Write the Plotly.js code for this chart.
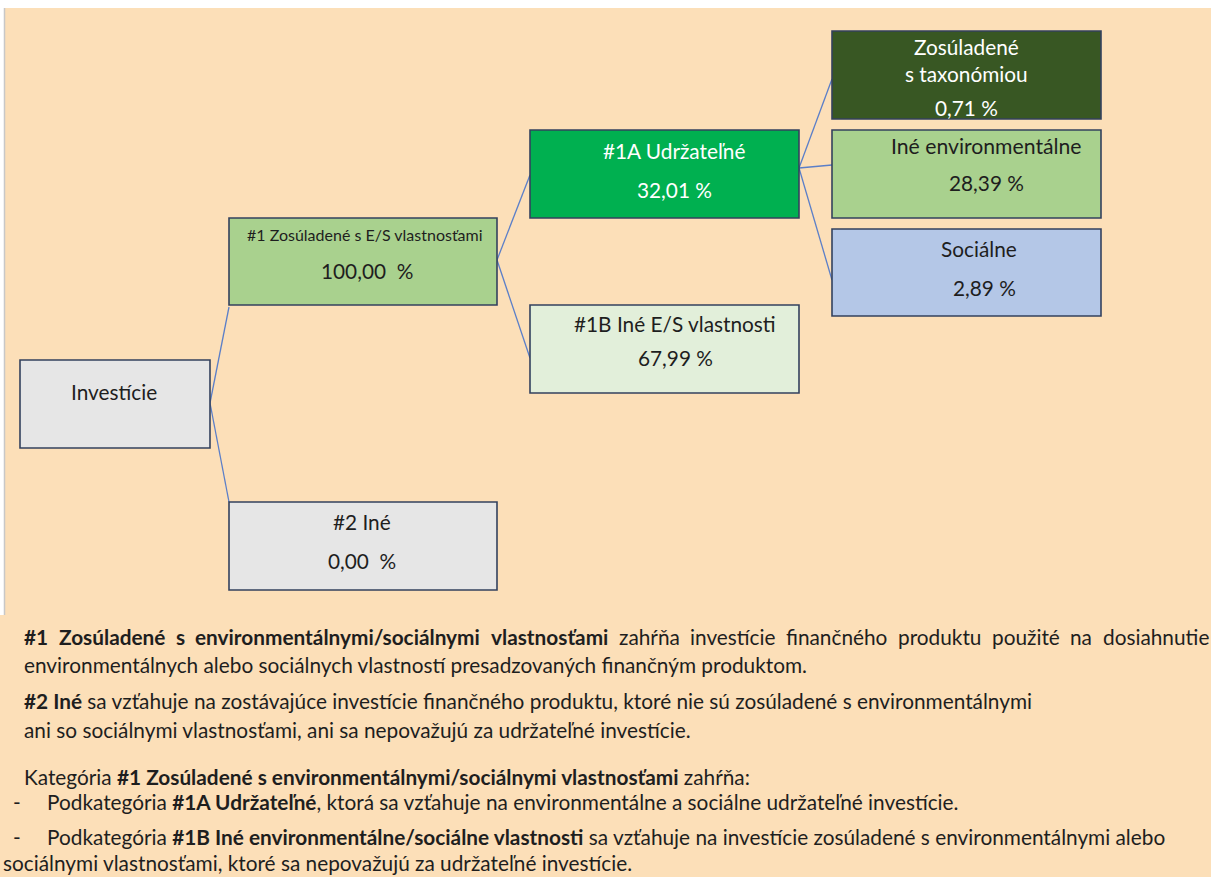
<!DOCTYPE html>
<html>
<head>
<meta charset="utf-8">
<script src="https://cdn.plot.ly/plotly-3.0.1.min.js"></script>
<style>html,body{margin:0;padding:0;background:#fff;}#chart{width:1211px;height:877px;}</style>
</head>
<body>
<div id="chart"></div>
<script>
// ---------- DATA ----------
const nodeLabels = ["Investície", "#1 Zosúladené s E/S vlastnosťami", "#2 Iné", "#1A Udržateľné",
  "#1B Iné E/S vlastnosti", "Zosúladené<br>s taxonómiou", "Iné environmentálne", "Sociálne"];
const nodeShares = [null, 100.00, 0.00, 32.01, 67.99, 0.71, 28.39, 2.89];
const nodeParents = [null, 0, 0, 1, 1, 3, 3, 3];

const line1Words = ["#1", "Zosúladené", "s", "environmentálnymi/sociálnymi", "vlastnosťami",
  "zahŕňa", "investície", "finančného", "produktu", "použité", "na", "dosiahnutie"];
const line1Bold = [true, true, true, true, true, false, false, false, false, false, false, false];
const noteLines = [
  "environmentálnych alebo sociálnych vlastností presadzovaných finančným produktom.",
  "<b>#2 Iné</b> sa vzťahuje na zostávajúce investície finančného produktu, ktoré nie sú zosúladené s environmentálnymi",
  "ani so sociálnymi vlastnosťami, ani sa nepovažujú za udržateľné investície.",
  "Kategória <b>#1 Zosúladené s environmentálnymi/sociálnymi vlastnosťami</b> zahŕňa:",
  "Podkategória <b>#1A Udržateľné</b>, ktorá sa vzťahuje na environmentálne a sociálne udržateľné investície.",
  "Podkategória <b>#1B Iné environmentálne/sociálne vlastnosti</b> sa vzťahuje na investície zosúladené s environmentálnymi alebo",
  "sociálnymi vlastnosťami, ktoré sa nepovažujú za udržateľné investície."
];
const noteBullet = [false, false, false, false, true, true, false];

// ---------- LAYOUT / STYLE ----------
const boxRects = [[20,360,210,448],[229,218,497,305],[229,502,497,590],[530,130,799,218],
  [530,305,799,393],[832,31,1101,119],[832,130,1101,218],[832,229,1101,316]];
const boxFill = ['#E6E6E6','#A9D18E','#E6E6E6','#00B050','#E2EFDA','#385723','#A9D18E','#B4C7E7'];
const txtColor = ['#1e1e1e','#1e1e1e','#1e1e1e','#ffffff','#1e1e1e','#ffffff','#1e1e1e','#1e1e1e'];
const labelPos = [[114,391],[365,234],[362,521],[674,150],[675,323],[966,60],[986,146],[979,248]];
const valuePos = [null,[367,270],[362,560],[674,189],[675,357],[966,107],[986,182],[984,287]];
const labelSize = [20.8,16,20.8,20.8,20.8,20.8,21.2,20.8];
const edgeFromY = [null,403,403,260,260,168,168,168];
const edgeToY = [null,307,502,175,358,79,165,280];

const FONT_NAME = 'Lato';
const FONT = 'Lato, Calibri, "Open Sans", sans-serif';
const line1Start = 22, line1End = 1207;
const noteX = [22,22,22,22,45,45,1];
const noteY = [664,700,729,776,801,836,862];
const line1Y = 636;
const noteSize = 20.8;

function fmtPct(v, level) {
  const s = v.toFixed(2).replace('.', ',');
  return level === 1 ? s + '\u00a0 %' : s + ' %';
}
function level(i) { let l = 0; let p = nodeParents[i]; while (p !== null) { l++; p = nodeParents[p]; } return l; }

// justify first note line: measure word widths with the same font
const ctx = document.createElement('canvas').getContext('2d');
const wWidths = line1Words.map((w, i) => {
  ctx.font = (line1Bold[i] ? 'bold ' : '') + noteSize + 'px ' + FONT_NAME;
  return ctx.measureText(w).width;
});
const totalW = wWidths.reduce((a, b) => a + b, 0);
const gap = (line1End - line1Start - totalW) / (line1Words.length - 1);
const line1X = [];
let cx = line1Start;
wWidths.forEach(w => { line1X.push(cx); cx += w + gap; });

const shapes = [];
// background
shapes.push({type:'rect', xref:'x', yref:'y', x0:0, x1:1211, y0:8, y1:877, fillcolor:'#FCDFB8', line:{width:0}, layer:'below'});
shapes.push({type:'rect', xref:'x', yref:'y', x0:0, x1:4, y0:8, y1:615, fillcolor:'#ffffff', line:{width:0}, layer:'below'});
shapes.push({type:'line', xref:'x', yref:'y', x0:4.5, x1:4.5, y0:8, y1:615, line:{color:'#c8c8c8', width:1.5}, layer:'below'});

// connectors
for (let i = 0; i < nodeLabels.length; i++) {
  const p = nodeParents[i];
  if (p === null) continue;
  shapes.push({type:'line', xref:'x', yref:'y', x0:boxRects[p][2], y0:edgeFromY[i], x1:boxRects[i][0], y1:edgeToY[i],
    line:{color:'#5B7FC8', width:1.3}});
}
// boxes
boxRects.forEach((r, i) => {
  shapes.push({type:'rect', xref:'x', yref:'y', x0:r[0], y0:r[1], x1:r[2], y1:r[3], fillcolor:boxFill[i],
    line:{color:'#33415E', width:1.6}});
});

const annotations = [];
nodeLabels.forEach((lab, i) => {
  annotations.push({x:labelPos[i][0], y:labelPos[i][1], xref:'x', yref:'y', text:lab, showarrow:false,
    xanchor:'center', yanchor:'middle', font:{family:FONT, size:labelSize[i], color:txtColor[i]}});
  if (nodeShares[i] !== null) {
    annotations.push({x:valuePos[i][0], y:valuePos[i][1], xref:'x', yref:'y', text:fmtPct(nodeShares[i], level(i)),
      showarrow:false, xanchor:'center', yanchor:'middle', font:{family:FONT, size:20.8, color:txtColor[i]}});
  }
});
line1Words.forEach((w, i) => {
  annotations.push({x:line1X[i], y:line1Y, xref:'x', yref:'y', text:line1Bold[i] ? '<b>' + w + '</b>' : w,
    showarrow:false, xanchor:'left', yanchor:'middle', font:{family:FONT, size:noteSize, color:'#1e1e1e'}});
});
noteLines.forEach((t, i) => {
  annotations.push({x:noteX[i], y:noteY[i], xref:'x', yref:'y', text:t, showarrow:false, xanchor:'left', yanchor:'middle',
    font:{family:FONT, size:noteSize, color:'#1e1e1e'}});
  if (noteBullet[i]) {
    annotations.push({x:11, y:noteY[i], xref:'x', yref:'y', text:'-', showarrow:false, xanchor:'left', yanchor:'middle',
      font:{family:FONT, size:noteSize, color:'#1e1e1e'}});
  }
});

const layout = {
  width:1211, height:877, autosize:false,
  margin:{l:0, r:0, t:0, b:0, pad:0},
  paper_bgcolor:'#ffffff', plot_bgcolor:'rgba(0,0,0,0)',
  xaxis:{range:[0,1211], visible:false, fixedrange:true},
  yaxis:{range:[877,0], visible:false, fixedrange:true},
  shapes:shapes, annotations:annotations, showlegend:false
};
Plotly.newPlot('chart', [{x:[], y:[], type:'scatter', hoverinfo:'skip'}], layout, {displayModeBar:false, staticPlot:true});
</script>
</body>
</html>
